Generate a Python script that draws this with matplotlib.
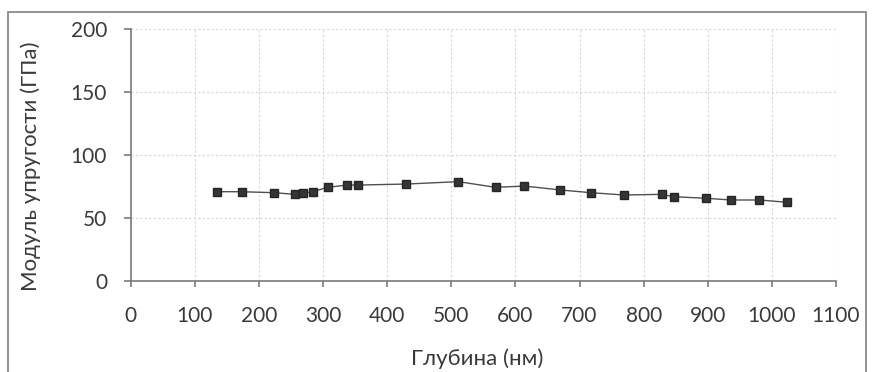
import matplotlib
matplotlib.use("Agg")
import matplotlib.pyplot as plt
from matplotlib.patches import Rectangle

depth_nm = [134, 173, 223, 257, 269, 284, 307, 338, 355, 430, 511, 569,
            614, 670, 718, 769, 829, 847, 897, 936, 980, 1024]
modulus_gpa = [70.8, 70.8, 70.0, 68.7, 69.5, 70.8, 74.3, 76.1, 76.1, 76.9, 78.8, 74.3,
               75.3, 72.2, 70.0, 68.2, 68.7, 66.8, 65.6, 64.2, 64.2, 62.4]
x_ticks = list(range(0, 1101, 100))
y_ticks = [0, 50, 100, 150, 200]

plt.rcParams['font.family'] = ['Lato', 'DejaVu Sans']

fig = plt.figure(figsize=(8.74, 3.72), dpi=100)
ax = fig.add_axes([130.7 / 874, 1 - 280.7 / 372, 705.3 / 874, 251.4 / 372])

ax.plot(depth_nm, modulus_gpa, color='#505050', lw=1.0, marker='s',
        markersize=6.2, markerfacecolor='#353535', markeredgecolor='#252525', zorder=3)

ax.set_xlim(0, 1100)
ax.set_ylim(0, 200)
ax.set_xticks(x_ticks)
ax.set_yticks(y_ticks)
ax.grid(True, color='#d6d6d6', linestyle=(0, (2, 2)), lw=0.8)
ax.set_axisbelow(True)
for s in ['top', 'right']:
    ax.spines[s].set_visible(False)
for s in ['left', 'bottom']:
    ax.spines[s].set_color('#7a7a7a')
    ax.spines[s].set_linewidth(1.2)
ax.tick_params(axis='x', direction='out', length=4, width=1.2, color='#7a7a7a',
               labelsize=15, labelcolor='#3a3a3a', pad=14)
ax.tick_params(axis='y', direction='out', length=5, width=1.2, color='#7a7a7a',
               labelsize=15, labelcolor='#3a3a3a', pad=12)

fig.text(477.5 / 874, 7 / 372, 'Глубина (нм)', fontsize=16, color='#3a3a3a',
         ha='center', va='baseline')
fig.text(31 / 874, 1 - 166.7 / 372, 'Модуль упругости (ГПа)', fontsize=16,
         color='#3a3a3a', ha='center', va='center', rotation=90)

fig.patches.append(Rectangle((8 / 874, -0.05), 858 / 874, 1.05 - 11.7 / 372,
                             transform=fig.transFigure, fill=False,
                             edgecolor='#8a8a8a', lw=1.3))

fig.savefig('out.png', dpi=100)
